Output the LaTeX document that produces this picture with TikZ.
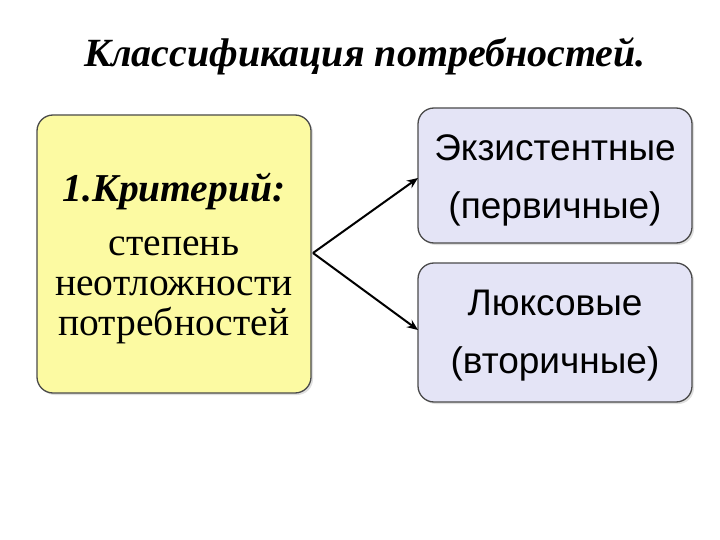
\documentclass[tikz,border=0pt]{standalone}
\usepackage{fontspec}
\setmainfont{Liberation Serif}
\newfontfamily\arialf{Liberation Sans}
\usetikzlibrary{arrows.meta,shadows}
\definecolor{yel}{HTML}{FCFAA2}
\definecolor{lav}{HTML}{E4E4F6}
\definecolor{bord}{HTML}{4A4A4A}
\tikzset{
 boxy/.style={draw=bord,line width=1.3pt,rounded corners=16pt,drop shadow={shadow xshift=2pt,shadow yshift=-2pt,opacity=0.25}},
 arr/.style={-{Stealth[length=11pt,width=9pt]},line width=2pt}
}
\begin{document}
\begin{tikzpicture}[x=1pt,y=-1pt]
\useasboundingbox (0,0) rectangle (720,540);
\fill[white] (0,0) rectangle (720,540);
\node (title) at (365,56) {\fontsize{40}{44}\selectfont\bfseries\itshape Классификация потребностей.};
\draw[boxy,fill=yel] (37,115) rectangle (311,393);
\draw[boxy,fill=lav] (418,108) rectangle (692,243);
\draw[boxy,fill=lav] (418,263) rectangle (692,402);
\node (l) at (174,258) [align=center,font=\fontsize{39.5}{40}\selectfont] {{\bfseries\itshape 1.Критерий:}\\[14pt] степень\\ неотложности\\ потребностей};
\node (a) at (555,180) [align=center,font=\arialf\fontsize{37}{58}\selectfont] {Экзистентные\\(первичные)};
\node (b) at (555,336) [align=center,font=\arialf\fontsize{37}{58}\selectfont] {Люксовые\\(вторичные)};
\coordinate (s) at (313,253);
\coordinate (ta) at (418,178);
\coordinate (tb) at (418,330);
\draw[arr] (s) -- (ta);
\draw[arr] (s) -- (tb);
\end{tikzpicture}
\end{document}
